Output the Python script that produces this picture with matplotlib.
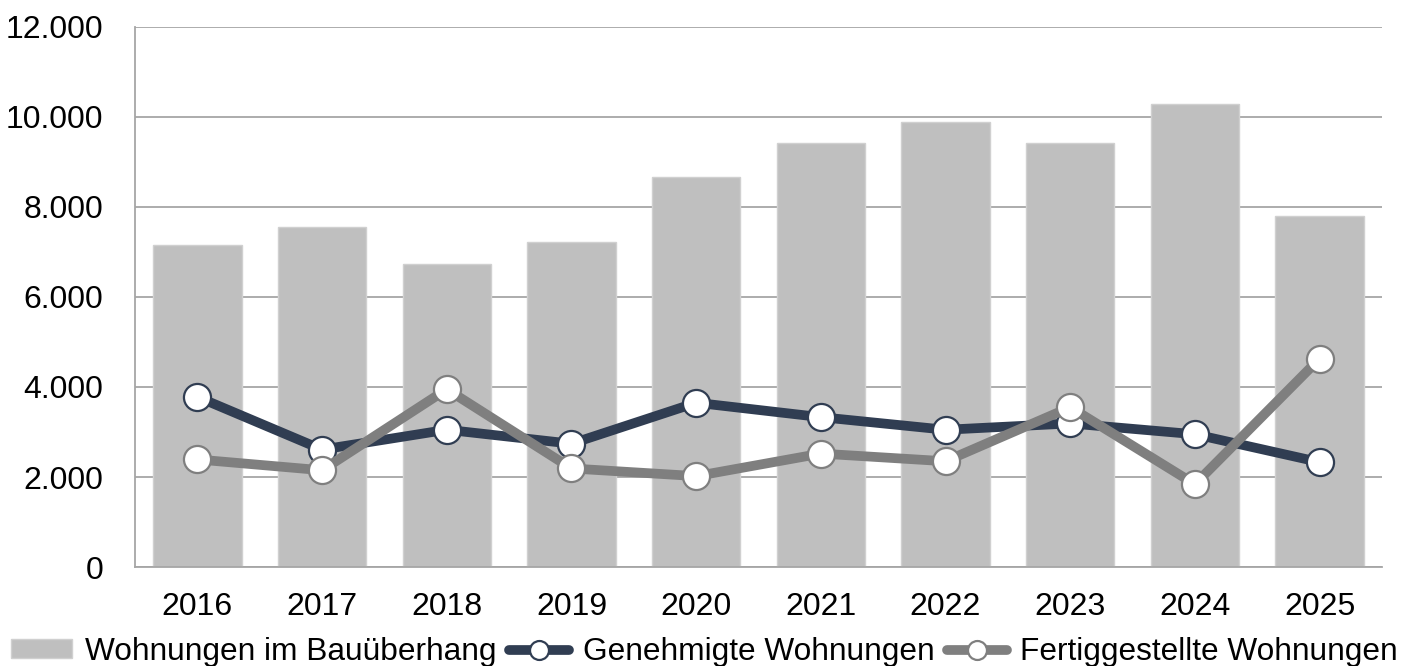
import matplotlib
matplotlib.use("Agg")
import matplotlib.pyplot as plt
from matplotlib.ticker import FuncFormatter, MultipleLocator

years = ["2016", "2017", "2018", "2019", "2020", "2021", "2022", "2023", "2024", "2025"]
ueberhang = [7160, 7560, 6740, 7230, 8670, 9420, 9890, 9410, 10290, 7800]
genehmigt = [3780, 2610, 3050, 2740, 3650, 3330, 3050, 3190, 2950, 2330]
fertig = [2390, 2150, 3950, 2190, 2020, 2520, 2350, 3550, 1840, 4630]

labels = ["Wohnungen im Bauüberhang", "Genehmigte Wohnungen", "Fertiggestellte Wohnungen"]

plt.rcParams['font.family'] = ['Liberation Sans', 'DejaVu Sans']

fig = plt.figure(figsize=(14.01, 6.66), dpi=100)
ax = fig.add_axes([0.0964, 0.1486, 0.89, 0.811])

x = list(range(len(years)))
b = ax.bar(x, ueberhang, width=0.71, color="#BFBFBF", edgecolor="#D0D0D0", linewidth=1.0,
           label=labels[0], zorder=2)
l1, = ax.plot(x, genehmigt, color="#303D52", lw=7.0, marker="o", ms=19.5, mfc="white",
              mec="#303D52", mew=1.6, label=labels[1], zorder=3, solid_capstyle="round")
l2, = ax.plot(x, fertig, color="#7F7F7F", lw=7.0, marker="o", ms=19.5, mfc="white",
              mec="#7F7F7F", mew=1.6, label=labels[2], zorder=4, solid_capstyle="round")

ax.set_xlim(-0.5, len(years) - 0.5)
ax.set_ylim(0, 12000)
ax.yaxis.set_major_locator(MultipleLocator(2000))
ax.yaxis.set_major_formatter(FuncFormatter(lambda v, p: f"{int(v):,}".replace(",", ".")))
ax.set_xticks(x)
ax.set_xticklabels(years)
ax.grid(axis="y", color="#A6A6A6", lw=1.3, zorder=0)
ax.set_axisbelow(True)
for s in ["top", "right"]:
    ax.spines[s].set_visible(False)
ax.spines["left"].set_color("#A6A6A6")
ax.spines["bottom"].set_color("#A6A6A6")
ax.spines["left"].set_linewidth(1.3)
ax.spines["bottom"].set_linewidth(1.3)
ax.tick_params(axis="both", length=0, labelsize=23, colors="black")
ax.tick_params(axis="x", pad=18)
ax.tick_params(axis="y", pad=23)

leg = fig.legend([b, l1, l2], labels, loc="lower center", bbox_to_anchor=(0.503, -0.035), ncol=3,
                 frameon=False, fontsize=22.8, handlelength=1.9, handleheight=0.55,
                 handletextpad=0.42, columnspacing=0.4, markerscale=0.7, borderpad=0.2)

fig.savefig("out.png", dpi=100)
